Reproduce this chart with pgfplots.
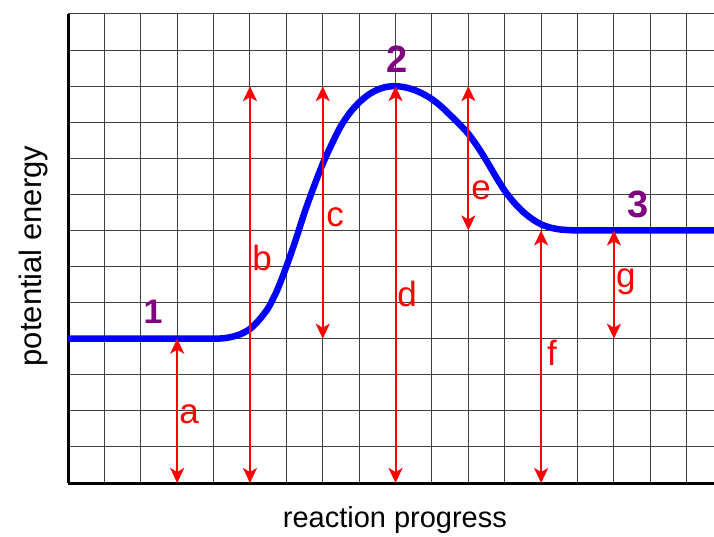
\documentclass[border=0pt]{standalone}
\usepackage{pgfplots}
\pgfplotsset{compat=1.18}
\usepackage{fontspec}
\setmainfont{Liberation Sans}
\usetikzlibrary{arrows.meta}

\definecolor{curveblue}{RGB}{0,0,255}
\definecolor{arrowred}{RGB}{255,0,0}
\definecolor{stagepurple}{RGB}{128,0,128}

\tikzset{
  dbl/.style={arrowred, line width=2pt,
    {Stealth[length=15pt,width=14pt,inset=4pt]}-{Stealth[length=15pt,width=14pt,inset=4pt]}},
  lbl/.style={text=arrowred, font=\fontsize{35}{35}\selectfont, anchor=base, inner sep=0pt},
  stage/.style={text=stagepurple, font=\fontsize{38}{38}\selectfont\bfseries, anchor=base, inner sep=0pt},
}

\begin{document}
\begin{tikzpicture}
% fixed page: axis sits at (0,0), 68pt margin left, 53pt below, 14pt above
\useasboundingbox (-68pt,-53pt) rectangle (646pt,483pt);
\begin{axis}[
    at={(0,0)}, anchor=south west,
    scale only axis, width=646pt, height=469pt,
    xmin=0, xmax=17.75, ymin=0, ymax=13,
    xtick={0,1,...,17}, ytick={0,1,...,13},
    xticklabels={}, yticklabels={},
    major tick length=0pt,
    grid=major,
    major grid style={black!75, line width=1pt},
    axis x line*=bottom, axis y line*=left,
    axis line style={line width=3pt, -},
    clip=false,
]
% energy profile
\addplot[curveblue, line width=6.5pt, smooth, tension=0.45] coordinates {
    (0,4) (1,4) (2,4) (3,4) (3.5,4) (3.75,4) (4,4) (4.25,4.01) (4.5,4.05)
    (4.75,4.13) (5,4.27) (5.25,4.52) (5.5,4.85) (5.75,5.35) (6,6)
    (6.25,6.72) (6.5,7.5) (6.75,8.2) (7,8.85) (7.25,9.4) (7.5,9.9)
    (7.75,10.27) (8,10.55) (8.25,10.76) (8.5,10.9) (8.75,10.98) (9,11)
    (9.25,10.97) (9.5,10.9) (9.75,10.79) (10,10.64) (10.25,10.44)
    (10.5,10.2) (10.75,9.95) (11,9.68) (11.25,9.33) (11.5,8.93)
    (11.75,8.5) (12,8.1) (12.25,7.78) (12.5,7.52) (12.75,7.32) (13,7.17)
    (13.25,7.08) (13.5,7.03) (13.75,7.01) (14,7) (14.25,7) (14.5,7)
    (15,7) (16,7) (17,7) (17.75,7)
};
% double arrows
\addplot[dbl] coordinates {(9,0) (9,11)};
\addplot[dbl] coordinates {(3,0) (3,4)};
\addplot[dbl] coordinates {(5,0) (5,11)};
\addplot[dbl] coordinates {(7,4) (7,11)};
\addplot[dbl] coordinates {(11,7) (11,11)};
\addplot[dbl] coordinates {(13,0) (13,7)};
\addplot[dbl] coordinates {(15,4) (15,7)};

\node[lbl] at (axis cs:3.33,1.66) {a};
\node[lbl] at (axis cs:5.33,5.90) {b};
\node[lbl] at (axis cs:7.34,7.10) {c};
\node[lbl] at (axis cs:9.32,4.88) {d};
\node[lbl] at (axis cs:11.35,7.87) {e};
\node[lbl] at (axis cs:13.30,3.27) {f};
\node[lbl] at (axis cs:15.33,5.43) {g};

\node[stage, font=\fontsize{34}{34}\selectfont\bfseries] at (axis cs:2.34,4.43) {1};
\node[stage] at (axis cs:9.04,11.39) {2};
\node[stage] at (axis cs:15.66,7.37) {3};

\node[anchor=base, inner sep=0pt, font=\fontsize{29}{29}\selectfont]
    at ([yshift=-44pt]rel axis cs:0.506,0) {reaction progress};
\node[anchor=base, inner sep=0pt, rotate=90, font=\fontsize{31}{31}\selectfont]
    at ([xshift=-26pt]rel axis cs:0,0.484) {potential energy};
\end{axis}
\end{tikzpicture}
\end{document}
